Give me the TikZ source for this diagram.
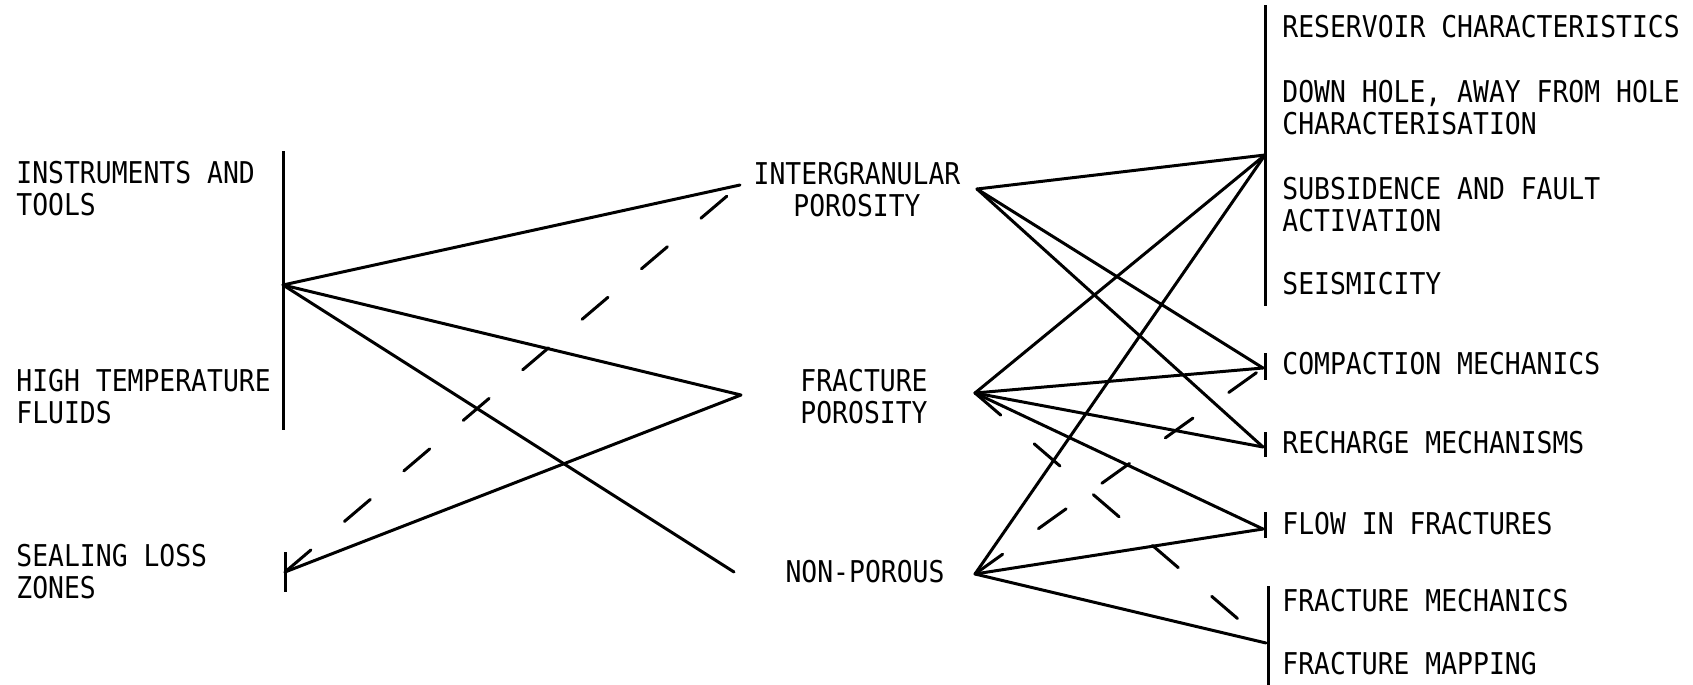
\documentclass[tikz,border=0pt]{standalone}
\usepackage{fontspec}
\newfontfamily\labelfont[FakeStretch=0.88]{DejaVu Sans Mono}
\begin{document}
\begin{tikzpicture}[x=0.5pt,y=-0.5pt,
  lab/.style={inner sep=0pt,font=\labelfont\fontsize{15}{16}\selectfont},
  leftlab/.style={lab,anchor=west,align=left},
  midlab/.style={lab,anchor=center,align=center},
  conn/.style={line width=1.5pt,line cap=round,line join=round},
  dconn/.style={conn,dash pattern=on 17pt off 22pt},
  bar/.style={line width=1.5pt}]
\useasboundingbox (0,0) rectangle (1693,685);
% labels
\node[leftlab] (instr) at (16,189) {INSTRUMENTS AND\\TOOLS};
\node[leftlab] (hight) at (16,396.5) {HIGH TEMPERATURE\\FLUIDS};
\node[leftlab] (seall) at (16,572) {SEALING LOSS\\ZONES};
\node[midlab] (intg) at (857,190) {INTERGRANULAR\\POROSITY};
\node[midlab] (frac) at (864,396.5) {FRACTURE\\POROSITY};
\node[midlab] (nonp) at (865,572) {NON-POROUS};
\node[leftlab] (resv) at (1282,27) {RESERVOIR CHARACTERISTICS};
\node[leftlab] (down) at (1282,108) {DOWN HOLE, AWAY FROM HOLE\\CHARACTERISATION};
\node[leftlab] (subs) at (1282,204.5) {SUBSIDENCE AND FAULT\\ACTIVATION};
\node[leftlab] (seis) at (1282,284) {SEISMICITY};
\node[leftlab] (comp) at (1282,364) {COMPACTION MECHANICS};
\node[leftlab] (rech) at (1282,443) {RECHARGE MECHANISMS};
\node[leftlab] (flow) at (1282,524) {FLOW IN FRACTURES};
\node[leftlab] (fmec) at (1282,601) {FRACTURE MECHANICS};
\node[leftlab] (fmap) at (1282,664) {FRACTURE MAPPING};
% bar ends
\coordinate (b1t) at (283,151); \coordinate (b1b) at (283,430);
\coordinate (b2t) at (285,552); \coordinate (b2b) at (285,592);
\coordinate (b3t) at (1265,5);  \coordinate (b3b) at (1265,306);
\coordinate (b4t) at (1265,353); \coordinate (b4b) at (1265,380);
\coordinate (b5t) at (1265,432); \coordinate (b5b) at (1265,457);
\coordinate (b6t) at (1265,512); \coordinate (b6b) at (1265,538);
\coordinate (b7t) at (1268,586); \coordinate (b7b) at (1268,685);
% connection points
\coordinate (hubL) at (283,285);
\coordinate (seal) at (285,572);
\coordinate (igin) at (740,185);
\coordinate (frin) at (741,395);
\coordinate (npin) at (734,572);
\coordinate (igout) at (977,189);
\coordinate (frout) at (975,393);
\coordinate (npout) at (975,574);
\coordinate (hubR) at (1265,155);
\coordinate (compt) at (1263,368);
\coordinate (recht) at (1263,447);
\coordinate (flowt) at (1263,529);
\coordinate (fmapt) at (1266,643);
% bars
\foreach \i in {1,...,7} \draw[bar] (b\i t) -- (b\i b);
% left connectors
\draw[conn] (hubL) -- (igin);
\draw[conn] (hubL) -- (frin) -- (seal);
\draw[conn] (hubL) -- (npin);
\draw[dconn] (seal) -- (igin);
% right connectors
\draw[conn] (igout) -- (hubR);
\draw[conn] (igout) -- (compt);
\draw[conn] (igout) -- (recht);
\draw[conn] (frout) -- (hubR);
\draw[conn] (frout) -- (compt);
\draw[conn] (frout) -- (recht);
\draw[conn] (frout) -- (flowt);
\draw[conn] (npout) -- (hubR);
\draw[conn] (npout) -- (flowt);
\draw[conn] (npout) -- (fmapt);
\draw[dconn] (npout) -- (compt);
\draw[dconn] (frout) -- (fmapt);
\end{tikzpicture}
\end{document}
